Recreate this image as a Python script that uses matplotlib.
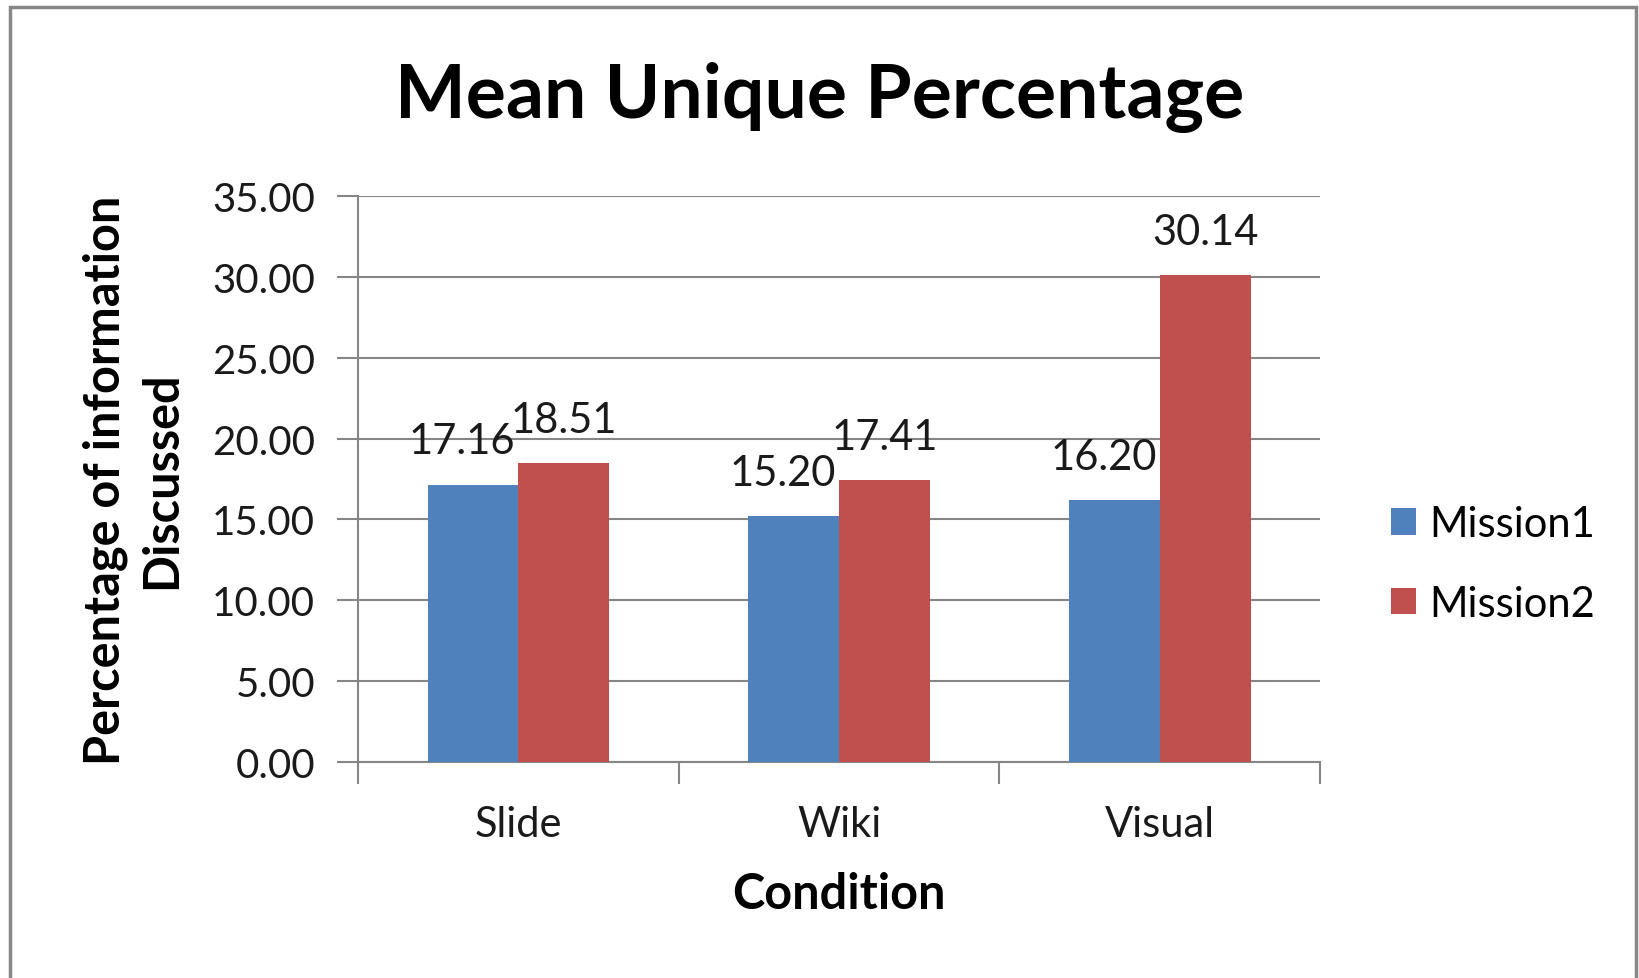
import numpy as np
import matplotlib.pyplot as plt
from matplotlib.patches import Rectangle

plt.rcParams['font.family'] = ['Lato', 'DejaVu Sans']

# data
conditions = ['Slide', 'Wiki', 'Visual']
series = ['Mission1', 'Mission2']
mission1 = [17.16, 15.20, 16.20]
mission2 = [18.51, 17.41, 30.14]
y_ticks = [0, 5, 10, 15, 20, 25, 30, 35]

colors = ['#4F81BD', '#C0504D']
grid_color = '#868686'
text_color = '#1a1a1a'

fig = plt.figure(figsize=(16.4, 9.79), dpi=100)
ax = fig.add_axes([0.2183, 0.2206, 0.805 - 0.2183, 0.7988 - 0.2206])

x = np.arange(len(conditions))
bar_width = 0.283
for i, vals in enumerate([mission1, mission2]):
    offs = (i - 0.5) * bar_width
    bars = ax.bar(x + offs, vals, width=bar_width, color=colors[i], label=series[i], zorder=3)
    for b, v in zip(bars, vals):
        ax.annotate(f'{v:.2f}', (b.get_x() + b.get_width() / 2, v),
                    xytext=(-8 if i == 0 else 0, 31), textcoords='offset points',
                    ha='center', va='center', fontsize=30, color=text_color, zorder=4)

ax.set_xlim(-0.5, 2.5)
ax.set_ylim(0, 35)
ax.set_yticks(y_ticks)
ax.set_yticklabels([f'{t:.2f}' for t in y_ticks])
ax.yaxis.grid(True, color=grid_color, linewidth=1.5, zorder=0)

ax.set_xticks(x)
ax.set_xticklabels(conditions)
ax.set_xticks(np.arange(-0.5, 2.6, 1), minor=True)
ax.tick_params(axis='x', which='major', length=0, pad=31, labelsize=30, labelcolor=text_color)
ax.tick_params(axis='x', which='minor', length=16, width=1.5, color=grid_color)
ax.tick_params(axis='y', length=15, width=1.5, color=grid_color, pad=16,
               labelsize=29, labelcolor=text_color)

for s in ['top', 'right']:
    ax.spines[s].set_visible(False)
for s in ['left', 'bottom']:
    ax.spines[s].set_color(grid_color)
    ax.spines[s].set_linewidth(1.5)

ax.set_xlabel('Condition', fontsize=35, fontweight='bold', labelpad=20)
ax.set_ylabel('Percentage of information\nDiscussed', fontsize=35, fontweight='bold',
              labelpad=20, linespacing=1.3)
fig.suptitle('Mean Unique Percentage', fontsize=54, fontweight='bold', x=0.5, y=0.937)

ax.legend(loc='center left', bbox_to_anchor=(1.035, 0.35), frameon=False, fontsize=30,
          handlelength=0.6, handleheight=0.6, handletextpad=0.3, labelspacing=1.0)

# outer chart border
fig.patches.append(Rectangle((10 / 1640, -0.05), 1626 / 1640, 1.05 - 8 / 979,
                             transform=fig.transFigure, fill=False,
                             edgecolor='#878787', linewidth=2.5))

fig.savefig('out.png', dpi=100, facecolor='white')
